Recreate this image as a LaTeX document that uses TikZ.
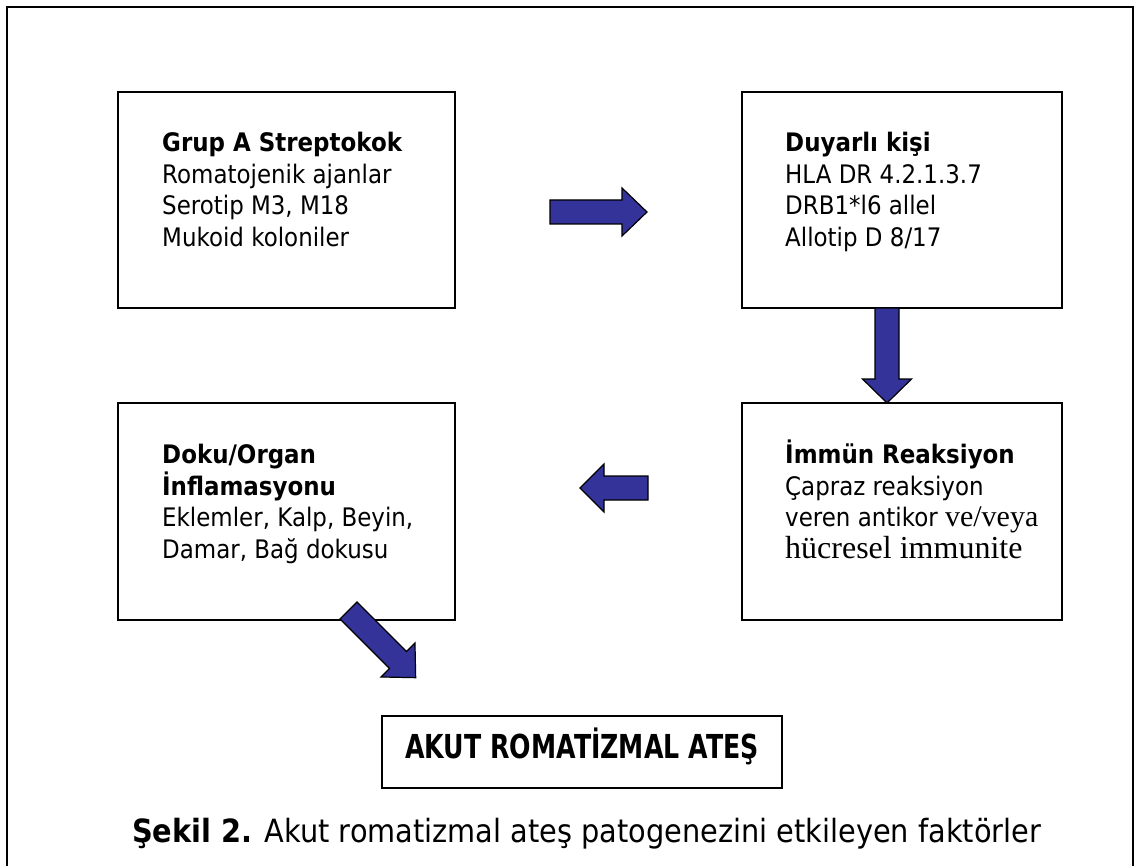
\documentclass[tikz,border=0pt]{standalone}
\usepackage{fontspec}
\setmainfont{DejaVu Sans}[FakeStretch=0.9]
\newfontfamily\timesf{Liberation Serif}
\definecolor{arrowblue}{RGB}{51,51,153}
\begin{document}
\begin{tikzpicture}[x=1pt,y=-1pt,
  box/.style={draw, line width=1.5pt, inner sep=0pt},
  txt/.style={anchor=base west, inner sep=0pt, font=\fontsize{25.5}{30}\selectfont},
  btxt/.style={anchor=base west, inner sep=0pt, font=\fontsize{25.5}{30}\selectfont\bfseries},
  blockarrow/.style={fill=arrowblue, draw=black, line width=1.2pt, line join=miter}]
\useasboundingbox (0,0) rectangle (1134,866);
% outer frame
\draw[line width=2pt] (7,880) -- (7,7) -- (1133,7) -- (1133,880);
% boxes
\node[box, minimum width=337pt, minimum height=216pt] (b1) at (286.5,200) {};
\node[box, minimum width=320pt, minimum height=216pt] (b2) at (902,200) {};
\node[box, minimum width=337pt, minimum height=217pt] (b3) at (286.5,511.5) {};
\node[box, minimum width=320pt, minimum height=217pt] (b4) at (902,511.5) {};
\node[box, minimum width=400pt, minimum height=72pt] (b5) at (582,752) {};
\node[anchor=base, inner sep=0pt, font=\fontsize{33}{40}\selectfont\bfseries] (t5) at (582,758) {\scalebox{0.85}[1]{AKUT ROMAT\.IZMAL ATEŞ}};
% box 1 text
\node[btxt] (t1a) at (162,152) {Grup A Streptokok};
\node[txt] (t1b) at (162,183.5) {Romatojenik ajanlar};
\node[txt] (t1c) at (162,215) {Serotip M3, M18};
\node[txt] (t1d) at (162,247) {Mukoid koloniler};
% box 2 text
\node[btxt] (t2a) at (785,152) {Duyarlı kişi};
\node[txt] (t2b) at (785,183.5) {HLA DR 4.2.1.3.7};
\node[txt] (t2c) at (785,215) {DRB1*l6 allel};
\node[txt] (t2d) at (785,247) {Allotip D 8/17};
% box 3 text
\node[btxt] (t3a) at (162,463) {Doku/Organ};
\node[btxt] (t3b) at (162,495) {İnflamasyonu};
\node[txt] (t3c) at (162,526.5) {Eklemler, Kalp, Beyin,};
\node[txt] (t3d) at (162,558) {Damar, Bağ dokusu};
% box 4 text
\node[btxt] (t4a) at (785,463) {İmmün Reaksiyon};
\node[txt] (t4b) at (785,495) {Çapraz reaksiyon};
\node[txt] (t4c) at (785,526.5) {veren antikor {\timesf\fontsize{30}{36}\selectfont ve/veya}};
\node[txt, font=\timesf\fontsize{32}{36}\selectfont] (t4d) at (785,558) {hücresel immunite};
% caption
\node[anchor=base west, inner sep=0pt, font=\fontsize{32}{36}\selectfont] (cap) at (132,842) {\textbf{Şekil 2.} Akut romatizmal ateş patogenezini etkileyen faktörler};
% block arrows
\begin{scope}[shift={(550,212)}]
\draw[blockarrow] (0,-12) -- (72,-12) -- (72,-24) -- (97,0) -- (72,24) -- (72,12) -- (0,12) -- cycle;
\end{scope}
\begin{scope}[shift={(887,308)}, rotate=-90]
\draw[blockarrow] (0,-12) -- (71,-12) -- (71,-24.5) -- (95,0) -- (71,24.5) -- (71,12) -- (0,12) -- cycle;
\end{scope}
\begin{scope}[shift={(648,488)}, rotate=180]
\draw[blockarrow] (0,-12) -- (44,-12) -- (44,-24) -- (68,0) -- (44,24) -- (44,12) -- (0,12) -- cycle;
\end{scope}
\begin{scope}[shift={(348.5,610.5)}, rotate=-45]
\draw[blockarrow] (0,-12) -- (70,-12) -- (70,-24) -- (95,0) -- (70,24) -- (70,12) -- (0,12) -- cycle;
\end{scope}
\end{tikzpicture}
\end{document}
